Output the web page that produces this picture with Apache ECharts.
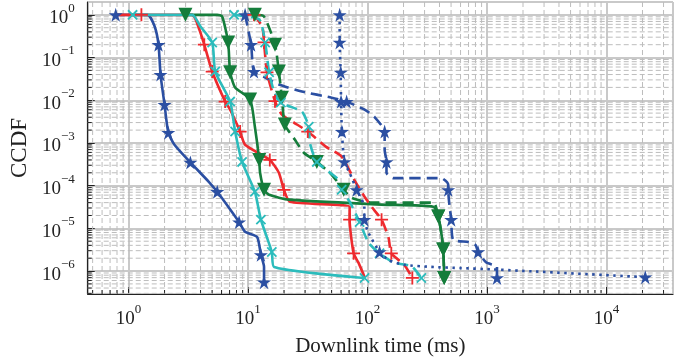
<!DOCTYPE html>
<html>
<head>
<meta charset="utf-8">
<script src="https://cdn.jsdelivr.net/npm/echarts@6/dist/echarts.min.js"></script>
<style>
  body { margin: 0; background: #fff; }
  #main { width: 679px; height: 362px; }
</style>
</head>
<body>
<div id="main"></div>
<script>
// each point: [downlink time (ms), CCDF, marker?]
var blueSolid = [[0.78,1,1],[1.44,1,0],[1.65,0.54,0],[1.78,0.2,1],[1.85,0.04,1],[2.0,0.0079,1],[2.15,1.74e-3,1],[2.42,9.1e-4,0],[3.29,3.5e-4,1],[4.73,1.2e-4,0],[5.52,7.2e-5,1],[6.94,3e-5,0],[8.41,1.4e-5,1],[9.44,8.3e-6,0],[11.9,6.3e-6,0],[12.8,2.4e-6,1],[13.6,1.25e-6,0],[13.6,5.5e-7,1]];
var redSolid = [[0.8,1,0],[1.28,1,1],[3.41,1,0],[3.9,0.46,0],[4.3,0.2,1],[5.01,0.047,1],[6.43,9.3e-3,1],[7.08,6e-3,0],[8.58,1.85e-3,1],[9.44,9.1e-4,0],[15.2,4e-4,1],[18.1,2e-4,0],[19.95,8e-5,1],[22.4,4.2e-5,0],[70.8,3.2e-5,0],[70.8,1.6e-5,1],[76.4,2.6e-6,1],[84.1,1.55e-6,0],[94.4,7.2e-7,0]];
var greenSolid = [[2.99,1,1],[5.52,1,0],[6.07,0.92,0],[6.81,0.226,1],[7.08,0.045,1],[7.79,0.02,0],[10.4,0.0104,1],[11.4,2.4e-3,0],[12.4,4e-4,1],[12.6,2e-4,0],[13.6,8e-5,1],[15.0,6.1e-5,0],[22.0,4.7e-5,0],[131,3.6e-5,0],[355,3.2e-5,0],[391,1.9e-5,1],[414,7.8e-6,0],[430,3.2e-6,1],[438,6.9e-7,1]];
var cyanSolid = [[1.08,1,1],[3.41,1,0],[3.98,0.54,0],[5.01,0.226,1],[5.31,0.047,1],[7.08,9.3e-3,1],[7.79,1.85e-3,1],[8.91,3.6e-4,1],[11.4,7.2e-5,1],[12.8,1.6e-5,1],[15.8,2.8e-6,1],[16.5,1.25e-6,0],[94.4,6.9e-7,1]];
var blueDashed = [[9.44,1,1],[10.6,0.2,1],[11.2,0.047,1],[13.9,0.034,0],[18.1,0.0234,0],[28.2,0.016,0],[50.1,0.0115,0],[66.8,9.3e-3,1],[94.4,6e-3,0],[114,4.1e-3,0],[139,1.85e-3,1],[139,6.9e-4,0],[144,3.6e-4,1],[144,2e-4,0],[165,1.5e-4,0],[414,1.5e-4,0],[473,1.05e-4,0],[473,8e-5,1],[482,4e-5,0],[501,1.6e-5,1],[521,5.4e-6,0],[695,4.8e-6,0],[800,4.1e-6,0],[841,2.8e-6,1],[981,1.6e-6,0],[1211,1.25e-6,0],[1211,6.9e-7,1]];
var redDashed = [[11.2,1,1],[13.1,0.54,0],[13.6,0.226,1],[14.4,0.045,1],[16.8,9.5e-3,1],[19.2,4.6e-3,0],[24.2,3e-3,0],[31.6,1.85e-3,1],[44.7,8.2e-4,0],[60.7,4.8e-4,0],[79.4,1.2e-4,0],[94.4,5.5e-5,0],[108,3.2e-5,0],[131,1.6e-5,1],[150,6e-6,0],[158,2.6e-6,1],[203,1.4e-6,0],[237,6.9e-7,1]];
var greenDashed = [[11.4,1,1],[13.6,0.92,0],[16.8,0.2,1],[18.1,0.047,1],[19.2,0.0115,1],[20.3,2.7e-3,1],[24.6,1.2e-3,0],[29.3,5.9e-4,0],[37.6,3.6e-4,1],[50.1,1.8e-4,0],[63.1,8e-5,1],[73.6,5.2e-5,0],[108,4e-5,0],[355,4e-5,0],[391,1.9e-5,1],[414,7.8e-6,0],[430,3.2e-6,1],[438,6.9e-7,1]];
var cyanDashed = [[7.64,1,1],[12.4,0.78,0],[13.9,0.226,1],[15.0,0.045,1],[16.5,0.016,0],[18.8,8.8e-3,1],[28.2,5.4e-3,0],[32.2,2.4e-3,1],[32.9,1e-3,0],[37.6,3.6e-4,1],[57.3,1.37e-4,0],[60.7,8e-5,1],[70.8,4.2e-5,0],[85.8,1.4e-5,1],[102,4.6e-6,0],[126,2.6e-6,1],[168,1.55e-6,0],[233,1.3e-6,0],[282,6.9e-7,1]];
var blueDotted = [[58.4,1,1],[58.4,0.226,1],[59.6,0.045,1],[60,9.3e-3,1],[61,1.85e-3,1],[64,3.6e-4,1],[70.8,2e-4,0],[81,8e-5,1],[94,3.2e-5,0],[94,1.6e-5,1],[102,7.8e-6,0],[126,2.8e-6,1],[150,1.8e-6,0],[203,1.4e-6,0],[341,1.25e-6,0],[607,1.17e-6,0],[1080,1.1e-6,0],[21100,7.2e-7,1]];

var X_MIN = 0.455, X_MAX = 36000;
var Y_MIN = 2.9e-7, Y_MAX = 2;

var BLUE = '#2b4fa2', RED = '#ee2a2e', GREEN = '#157d3b', CYAN = '#2cbcbc';
var STAR = 'path://M0,-10 L2.23,-3.07 L9.51,-3.09 L3.61,1.17 L5.88,8.09 L0,3.8 L-5.88,8.09 L-3.61,1.17 L-9.51,-3.09 L-2.23,-3.07 Z';
var PLUS = 'path://M-10,-1.4 H10 V1.4 H-10 Z M-1.4,-10 H1.4 V10 H-1.4 Z';
var TRI = 'path://M0,10 L-10,-7 L10,-7 Z';
var FONT = '"Liberation Serif", "DejaVu Serif", serif';

// minor grid positions 2..9 x 10^k
var minorX = [], minorY = [];
for (var k = -1; k <= 4; k++) for (var m = 2; m <= 9; m++) {
    var v = m * Math.pow(10, k);
    if (v > X_MIN && v < X_MAX) minorX.push(v);
}
for (var k = -7; k <= 0; k++) for (var m = 2; m <= 9; m++) {
    var v = m * Math.pow(10, k);
    if (v > Y_MIN && v < Y_MAX) minorY.push(v);
}

function powLabel(value) {
    var e = Math.log10(value);
    if (Math.abs(e - Math.round(e)) > 1e-6) return '';
    e = Math.round(e);
    return '{b|10}{s|' + (e < 0 ? '\u2212' + (-e) : e) + '}';
}
var richLabel = {
    b: { fontSize: 19, lineHeight: 26, verticalAlign: 'bottom', fontFamily: FONT, color: '#222' },
    s: { fontSize: 13, lineHeight: 13, verticalAlign: 'top', fontFamily: FONT, color: '#222' }
};

function curve(data, color, dash, symbol, rotate) {
    return {
        type: 'line',
        data: data,
        color: color,
        z: 3,
        smooth: 0.2,
        lineStyle: { width: 2.6, type: dash, color: color },
        symbol: function (val) { return val[2] ? symbol : 'none'; },
        symbolSize: symbol === PLUS ? 13 : 14,
        symbolRotate: rotate || 0,
        itemStyle: { color: color },
        emphasis: { disabled: true }
    };
}

var myChart = echarts.init(document.getElementById('main'));
var option = {
    animation: false,
    grid: { left: 85, right: 6, top: 2, bottom: 68, show: true, borderColor: '#222', borderWidth: 1 },
    xAxis: {
        type: 'log', min: X_MIN, max: X_MAX,
        name: 'Downlink time (ms)', nameLocation: 'middle', nameGap: 42,
        nameTextStyle: { fontFamily: FONT, fontSize: 21, color: '#222' },
        axisLine: { lineStyle: { color: '#222', width: 1.2 } },
        axisTick: { inside: true, length: 7, lineStyle: { color: '#222' } },
        axisLabel: { formatter: powLabel, rich: richLabel, margin: 9, showMinLabel: false, showMaxLabel: false },
        splitLine: { show: true, lineStyle: { color: '#c9c9c9', width: 2 } }
    },
    yAxis: {
        type: 'log', min: Y_MIN, max: Y_MAX,
        name: 'CCDF', nameLocation: 'middle', nameGap: 55, nameRotate: 90,
        nameTextStyle: { fontFamily: FONT, fontSize: 23, color: '#222' },
        axisLine: { lineStyle: { color: '#222', width: 1.2 } },
        axisTick: { inside: true, length: 7, lineStyle: { color: '#222' } },
        axisLabel: { formatter: powLabel, rich: richLabel, margin: 13, showMinLabel: false, showMaxLabel: false },
        splitLine: { show: true, lineStyle: { color: '#c9c9c9', width: 2 } }
    },
    series: [
        {
            type: 'custom', silent: true, z: 1,
            data: minorX.map(function (v) { return [v, Y_MIN]; }),
            renderItem: function (params, api) {
                var v = api.value(0);
                var top = api.coord([v, Y_MAX]), bot = api.coord([v, Y_MIN]);
                return { type: 'group', children: [
                    { type: 'line', shape: { x1: top[0], y1: top[1], x2: bot[0], y2: bot[1] }, style: { stroke: '#bdbdbd', lineWidth: 1, lineDash: [5, 3] } },
                    { type: 'line', shape: { x1: bot[0], y1: bot[1], x2: bot[0], y2: bot[1] - 4 }, style: { stroke: '#222', lineWidth: 1 } }
                ] };
            }
        },
        {
            type: 'custom', silent: true, z: 1,
            data: minorY.map(function (v) { return [X_MIN, v]; }),
            renderItem: function (params, api) {
                var v = api.value(1);
                var l = api.coord([X_MIN, v]), r = api.coord([X_MAX, v]);
                return { type: 'group', children: [
                    { type: 'line', shape: { x1: l[0], y1: l[1], x2: r[0], y2: r[1] }, style: { stroke: '#bdbdbd', lineWidth: 1, lineDash: [5, 3] } },
                    { type: 'line', shape: { x1: l[0], y1: l[1], x2: l[0] + 4, y2: l[1] }, style: { stroke: '#222', lineWidth: 1 } }
                ] };
            }
        },
        curve(blueSolid, BLUE, 'solid', STAR),
        curve(redSolid, RED, 'solid', PLUS),
        curve(greenSolid, GREEN, 'solid', TRI),
        curve(cyanSolid, CYAN, 'solid', PLUS, 45),
        curve(blueDashed, BLUE, [11, 6], STAR),
        curve(redDashed, RED, [11, 6], PLUS),
        curve(greenDashed, GREEN, [11, 6], TRI),
        curve(cyanDashed, CYAN, [11, 6], PLUS, 45),
        curve(blueDotted, BLUE, [2.5, 4.5], STAR)
    ]
};
myChart.setOption(option);
</script>
</body>
</html>
